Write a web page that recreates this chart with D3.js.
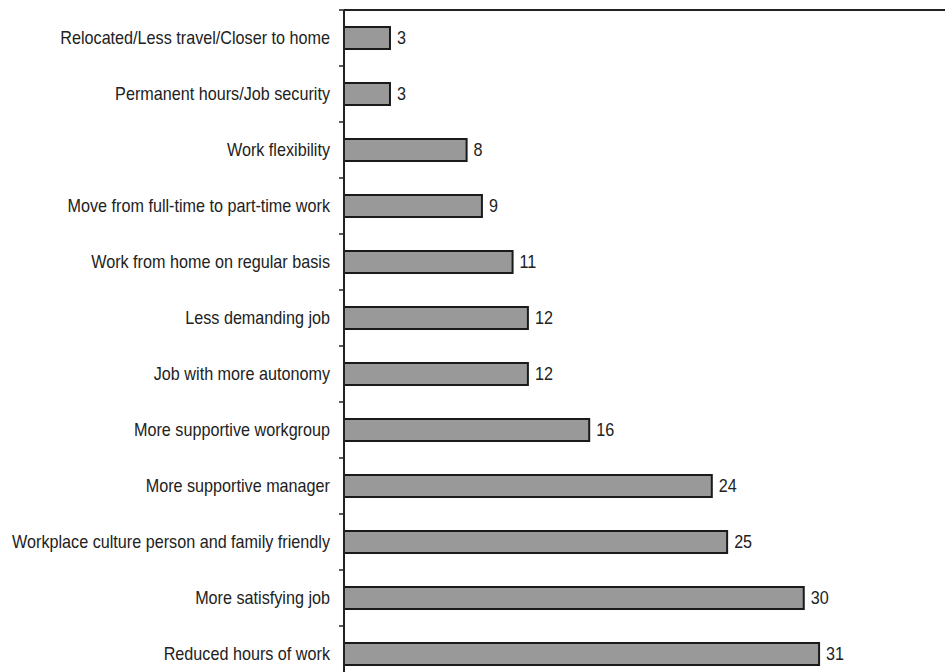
<!DOCTYPE html>
<html>
<head>
<meta charset="utf-8">
<script src="https://cdn.jsdelivr.net/npm/d3@7"></script>
<style>
  html, body { margin: 0; padding: 0; background: #fff; }
  svg { display: block; }
  text { font-family: "Liberation Sans", Arial, sans-serif; font-size: 17.5px; fill: #222; }
</style>
</head>
<body>
<svg id="chart" width="945" height="672"></svg>
<script>
// Reasons given, top to bottom, with the percentage citing each
const categories = [
  "Relocated/Less travel/Closer to home",
  "Permanent hours/Job security",
  "Work flexibility",
  "Move from full-time to part-time work",
  "Work from home on regular basis",
  "Less demanding job",
  "Job with more autonomy",
  "More supportive workgroup",
  "More supportive manager",
  "Workplace culture person and family friendly",
  "More satisfying job",
  "Reduced hours of work"
];
const values = [3, 3, 8, 9, 11, 12, 12, 16, 24, 25, 30, 31];
const xDomain = [0, 40];

(function () {
  const svg = d3.select("#chart");
  const plotLeft = 344, plotTop = 10, plotBottom = 682, plotRight = 957;
  const squeeze = 0.925; // condensed lettering

  const y = d3.scaleBand()
    .domain(categories)
    .range([plotTop, plotBottom])
    .paddingInner(0.607)
    .paddingOuter(0.3035);

  const x = d3.scaleLinear().domain(xDomain).range([plotLeft, plotRight]);

  const data = categories.map((c, i) => ({ cat: c, val: values[i] }));
  const midY = d => y(d.cat) + y.bandwidth() / 2;

  // Frame: top border line
  svg.append("line")
    .attr("x1", plotLeft).attr("x2", plotRight)
    .attr("y1", plotTop).attr("y2", plotTop)
    .attr("stroke", "#222").attr("stroke-width", 2);

  // Bars
  svg.append("g").selectAll("rect")
    .data(data)
    .join("rect")
    .attr("x", x(0))
    .attr("y", d => y(d.cat))
    .attr("width", d => x(d.val) - x(0))
    .attr("height", y.bandwidth())
    .attr("fill", "#999999")
    .attr("stroke", "#1a1a1a")
    .attr("stroke-width", 2);

  // Value labels
  svg.append("g").selectAll("text")
    .data(data)
    .join("text")
    .attr("transform", d => `translate(${x(d.val) + 7},${midY(d)}) scale(${squeeze},1)`)
    .attr("dy", "0.32em")
    .text(d => d.val);

  // Category labels
  svg.append("g").selectAll("text")
    .data(data)
    .join("text")
    .attr("transform", d => `translate(${plotLeft - 14},${midY(d)}) scale(${squeeze},1)`)
    .attr("dy", "0.32em")
    .attr("text-anchor", "end")
    .text(d => d.cat);

  // Tick marks between categories on the vertical axis
  const step = y.step();
  const boundaries = d3.range(categories.length + 1).map(i => plotTop + i * step);
  svg.append("g").selectAll("line")
    .data(boundaries)
    .join("line")
    .attr("x1", plotLeft - 5).attr("x2", plotLeft)
    .attr("y1", d => d).attr("y2", d => d)
    .attr("stroke", "#222").attr("stroke-width", 1.5);

  // Vertical axis line
  svg.append("line")
    .attr("x1", plotLeft).attr("x2", plotLeft)
    .attr("y1", plotTop).attr("y2", plotBottom)
    .attr("stroke", "#222").attr("stroke-width", 2);
})();
</script>
</body>
</html>
